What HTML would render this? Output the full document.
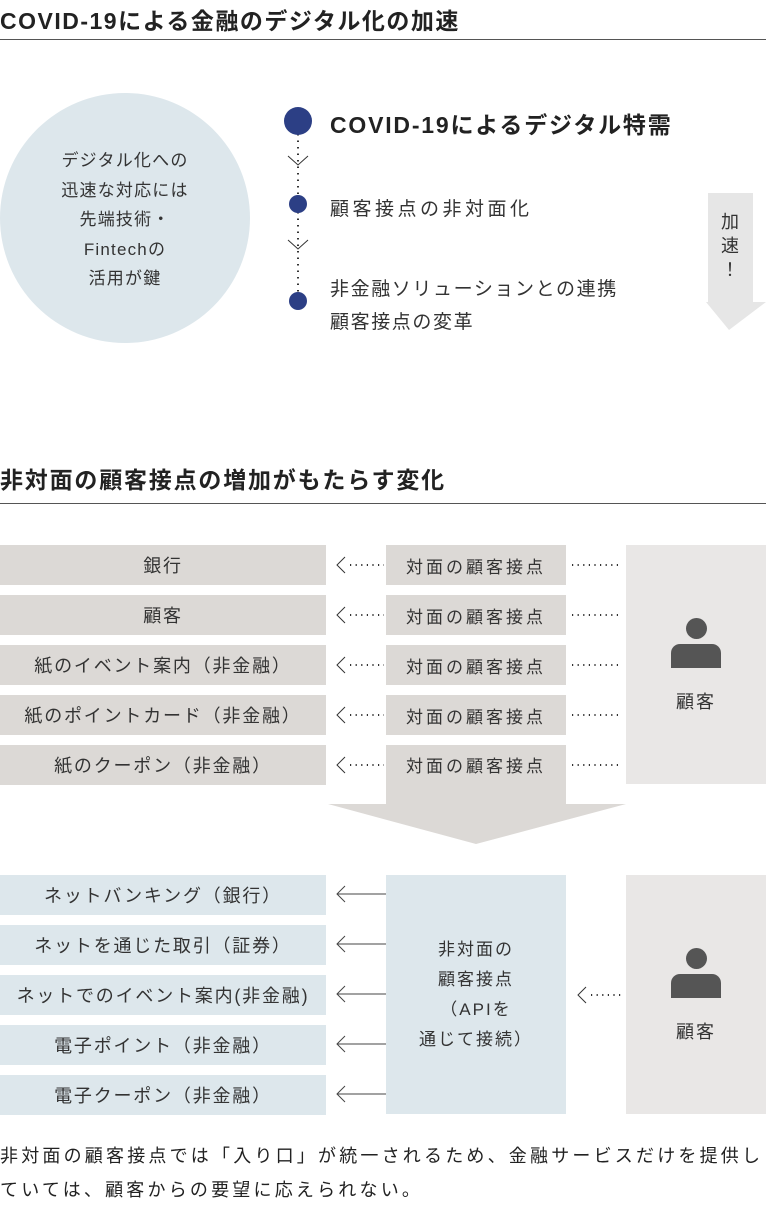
<!DOCTYPE html>
<html><head><meta charset="utf-8"><style>
body{margin:0;width:766px;height:1200px;background:#fff;position:relative;overflow:hidden;font-family:"Liberation Sans","Noto Sans CJK JP",sans-serif;color:#333}
.a{position:absolute}
.t{position:absolute;white-space:nowrap}
.lb{position:absolute;left:0;width:326px;height:40px;display:flex;align-items:center;justify-content:center;font-size:18px;color:#333;letter-spacing:1.8px}
.g{background:#dcd9d6}
.b{background:#dde7ec}
.mb{position:absolute;left:386px;width:180px;height:40px;display:flex;align-items:center;justify-content:center;font-size:17px;background:#dcd9d6;letter-spacing:3px}
</style></head><body>
<div class="t" style="left:0;top:2px;font-size:23px;font-weight:bold;color:#222;letter-spacing:1.5px">COVID-19による金融のデジタル化の加速</div>
<div class="a" style="left:0;top:39px;width:766px;height:1px;background:#555"></div>
<div class="a" style="left:0;top:93px;width:250px;height:250px;border-radius:50%;background:#dde7ec"></div>
<div class="t" style="left:0;top:146px;width:250px;text-align:center;font-size:17px;line-height:29.5px;white-space:normal;letter-spacing:1.2px">デジタル化への<br>迅速な対応には<br>先端技術・<br>Fintechの<br>活用が鍵</div>
<svg class="a" style="left:0;top:0" width="766" height="1200">
<line x1="298" y1="134" x2="298" y2="300" stroke="#333" stroke-width="2" stroke-dasharray="1.5,5"/>
<polyline points="288,156 298,165 308,156" fill="none" stroke="#333" stroke-width="1"/>
<polyline points="288,240 298,249 308,240" fill="none" stroke="#333" stroke-width="1"/>
<circle cx="298" cy="121" r="14" fill="#2c3f85"/>
<circle cx="298" cy="204" r="9" fill="#2c3f85"/>
<circle cx="298" cy="301" r="9" fill="#2c3f85"/>
<polygon points="708,193 753,193 753,302 766,302 729,330 706,302 708,302" fill="#e6e6e6"/>
<polygon points="386,784 566,784 566,804 626,804 476,844 328,804 386,804" fill="#dcd9d6"/>
<g stroke="#333" stroke-width="1" fill="none">
<polyline points="345,557 337,565 345,573"/><polyline points="345,607 337,615 345,623"/><polyline points="345,657 337,665 345,673"/><polyline points="345,707 337,715 345,723"/><polyline points="345,757 337,765 345,773"/>
<polyline points="586,987 578,995 586,1003"/>
</g>
<g stroke="#333" stroke-width="2" stroke-dasharray="1.2,4.4">
<line x1="350" y1="565" x2="384" y2="565"/><line x1="350" y1="615" x2="384" y2="615"/><line x1="350" y1="665" x2="384" y2="665"/><line x1="350" y1="715" x2="384" y2="715"/><line x1="350" y1="765" x2="384" y2="765"/>
<line x1="572" y1="565" x2="622" y2="565"/><line x1="572" y1="615" x2="622" y2="615"/><line x1="572" y1="665" x2="622" y2="665"/><line x1="572" y1="715" x2="622" y2="715"/><line x1="572" y1="765" x2="622" y2="765"/>
<line x1="591" y1="995" x2="622" y2="995"/>
</g>
<g stroke="#444" stroke-width="1" fill="none">
<polyline points="345,886 337,894 345,902"/><line x1="337" y1="894" x2="386" y2="894"/>
<polyline points="345,936 337,944 345,952"/><line x1="337" y1="944" x2="386" y2="944"/>
<polyline points="345,986 337,994 345,1002"/><line x1="337" y1="994" x2="386" y2="994"/>
<polyline points="345,1036 337,1044 345,1052"/><line x1="337" y1="1044" x2="386" y2="1044"/>
<polyline points="345,1086 337,1094 345,1102"/><line x1="337" y1="1094" x2="386" y2="1094"/>
</g>
</svg>
<div class="t" style="left:330px;top:106px;font-size:23px;font-weight:bold;color:#222;letter-spacing:1.8px">COVID-19によるデジタル特需</div>
<div class="t" style="left:330px;top:194px;font-size:19px;letter-spacing:3.5px">顧客接点の非対面化</div>
<div class="t" style="left:330px;top:273px;font-size:19px;line-height:33px;letter-spacing:1.6px">非金融ソリューションとの連携<br>顧客接点の変革</div>
<div class="t" style="left:719px;top:210px;font-size:18px;line-height:24px;width:22px;text-align:center;white-space:normal">加<br>速<br>！</div>
<div class="t" style="left:0;top:461px;font-size:23px;font-weight:bold;color:#222;letter-spacing:1.8px">非対面の顧客接点の増加がもたらす変化</div>
<div class="a" style="left:0;top:503px;width:766px;height:1px;background:#555"></div>
<div class="lb g" style="top:545px">銀行</div>
<div class="lb g" style="top:595px">顧客</div>
<div class="lb g" style="top:645px">紙のイベント案内（非金融）</div>
<div class="lb g" style="top:695px">紙のポイントカード（非金融）</div>
<div class="lb g" style="top:745px">紙のクーポン（非金融）</div>
<div class="mb" style="top:545px">対面の顧客接点</div>
<div class="mb" style="top:595px">対面の顧客接点</div>
<div class="mb" style="top:645px">対面の顧客接点</div>
<div class="mb" style="top:695px">対面の顧客接点</div>
<div class="mb" style="top:745px;align-items:flex-start;padding-top:7px;height:33px">対面の顧客接点</div>
<div class="a" style="left:626px;top:545px;width:140px;height:239px;background:#e9e7e6"></div>
<div class="a" style="left:686px;top:618px;width:21px;height:21px;border-radius:50%;background:#555"></div>
<div class="a" style="left:671px;top:644px;width:50px;height:24px;border-radius:9px 9px 0 0;background:#555"></div>
<div class="t" style="left:626px;top:688px;width:140px;text-align:center;font-size:18px;letter-spacing:2px">顧客</div>
<div class="lb b" style="top:875px">ネットバンキング（銀行）</div>
<div class="lb b" style="top:925px">ネットを通じた取引（証券）</div>
<div class="lb b" style="top:975px">ネットでのイベント案内(非金融)</div>
<div class="lb b" style="top:1025px">電子ポイント（非金融）</div>
<div class="lb b" style="top:1075px">電子クーポン（非金融）</div>
<div class="a" style="left:386px;top:875px;width:180px;height:239px;background:#dde7ec"></div>
<div class="t" style="left:386px;top:935px;width:180px;text-align:center;font-size:17px;line-height:30px;white-space:normal;letter-spacing:2px">非対面の<br>顧客接点<br>（APIを<br>通じて接続）</div>
<div class="a" style="left:626px;top:875px;width:140px;height:239px;background:#e9e7e6"></div>
<div class="a" style="left:686px;top:948px;width:21px;height:21px;border-radius:50%;background:#555"></div>
<div class="a" style="left:671px;top:974px;width:50px;height:24px;border-radius:9px 9px 0 0;background:#555"></div>
<div class="t" style="left:626px;top:1018px;width:140px;text-align:center;font-size:18px;letter-spacing:2px">顧客</div>
<div class="t" style="left:0;top:1139px;font-size:18px;line-height:34px;color:#222;letter-spacing:3.2px">非対面の顧客接点では「入り口」が統一されるため、金融サービスだけを提供し<br>ていては、顧客からの要望に応えられない。</div>
</body></html>
